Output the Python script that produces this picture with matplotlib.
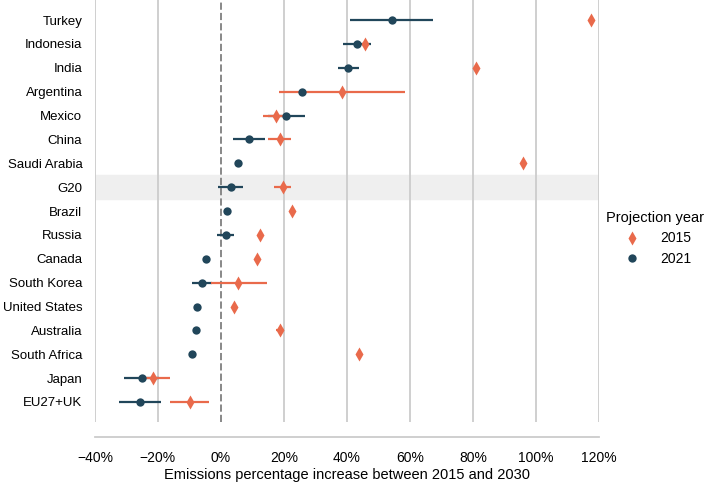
import numpy as np
import matplotlib.pyplot as plt

# Countries, top to bottom
countries = ['Turkey', 'Indonesia', 'India', 'Argentina', 'Mexico', 'China',
             'Saudi Arabia', 'G20', 'Brazil', 'Russia', 'Canada', 'South Korea',
             'United States', 'Australia', 'South Africa', 'Japan', 'EU27+UK']

# 2015 projections (% change 2015-2030), with low / high range
proj_2015 = [117.5, 45.7, 81.0, 38.5, 17.4, 18.8, 95.8, 19.6, 22.5, 12.4, 11.5,
             5.3, 4.1, 18.8, 43.8, -21.4, -9.9]
low_2015 = [117.5, 44.8, 81.0, 18.4, 13.4, 15.0, 95.8, 16.9, 22.5, 12.4, 11.5,
            -3.0, 4.1, 17.5, 43.8, -25.0, -16.2]
high_2015 = [117.5, 46.6, 81.0, 58.4, 20.5, 22.4, 95.8, 22.4, 22.5, 12.4, 11.5,
             14.6, 4.1, 20.0, 43.8, -16.0, -3.7]

# 2021 projections
proj_2021 = [54.2, 43.3, 40.5, 25.9, 20.8, 9.0, 5.3, 3.1, 1.8, 1.5, -4.8,
             -6.0, -7.5, -7.9, -9.1, -25.1, -25.6]
low_2021 = [41.0, 38.8, 37.3, 25.0, 15.0, 3.9, 5.3, -0.9, 1.2, -1.2, -4.8,
            -9.3, -8.2, -8.9, -9.1, -30.7, -32.3]
high_2021 = [67.2, 47.8, 43.9, 27.0, 26.7, 14.0, 5.3, 6.9, 2.4, 4.2, -4.8,
             -2.7, -6.8, -6.9, -9.1, -19.5, -19.0]

orange = '#e96a4b'
navy = '#21465a'

plt.rcParams['font.family'] = ['Liberation Sans', 'DejaVu Sans']
fig = plt.figure(figsize=(7.08, 4.84), dpi=100)
ax = fig.add_axes([0.134, 0.128, 0.712, 0.872])

y = np.arange(len(countries))

# G20 highlight band
g = countries.index('G20')
ax.axhspan(g - 0.5, g + 0.5, color='#efefef', zorder=0)

# vertical grid + zero line
for xv in range(-40, 121, 20):
    if xv == 0:
        continue
    ax.axvline(xv, color='#cccccc', lw=1.3, zorder=1)
ax.axvline(0, color='#888888', lw=1.4, ls='--', zorder=1)

# error ranges
ax.hlines(y, low_2021, high_2021, color=navy, lw=1.6, zorder=2)
ax.hlines(y, low_2015, high_2015, color=orange, lw=1.6, zorder=3)

# points
ax.plot(proj_2015, y, ls='none', marker='d', ms=7.5, color=orange, mec='none',
        zorder=4, label='2015')
ax.plot(proj_2021, y, ls='none', marker='o', ms=6, color=navy, mec='none',
        zorder=5, label='2021')

ax.set_xlim(-40, 120)
ax.set_ylim(16.84, -0.84)
ax.set_yticks(y)
ax.set_yticklabels(countries, fontsize=9.5)
ax.set_xticks(range(-40, 121, 20))
ax.set_xticklabels([f'{v}%'.replace('-', '\u2212') for v in range(-40, 121, 20)], fontsize=9.5)
ax.tick_params(axis='y', length=0, pad=9)
ax.tick_params(axis='x', length=0, pad=10)
ax.set_xlabel('Emissions percentage increase between 2015 and 2030', fontsize=10.5, labelpad=2)

for s in ['top', 'right', 'left']:
    ax.spines[s].set_visible(False)
ax.spines['bottom'].set_position(('outward', 11))
ax.spines['bottom'].set_color('#cccccc')
ax.spines['bottom'].set_linewidth(1.3)

leg = ax.legend(title='Projection year', loc='center left', bbox_to_anchor=(1.0, 0.435),
                frameon=False, fontsize=10, title_fontsize=10.5, handletextpad=1.0,
                labelspacing=0.45, borderaxespad=0.1)

fig.savefig('out.png', dpi=100)
